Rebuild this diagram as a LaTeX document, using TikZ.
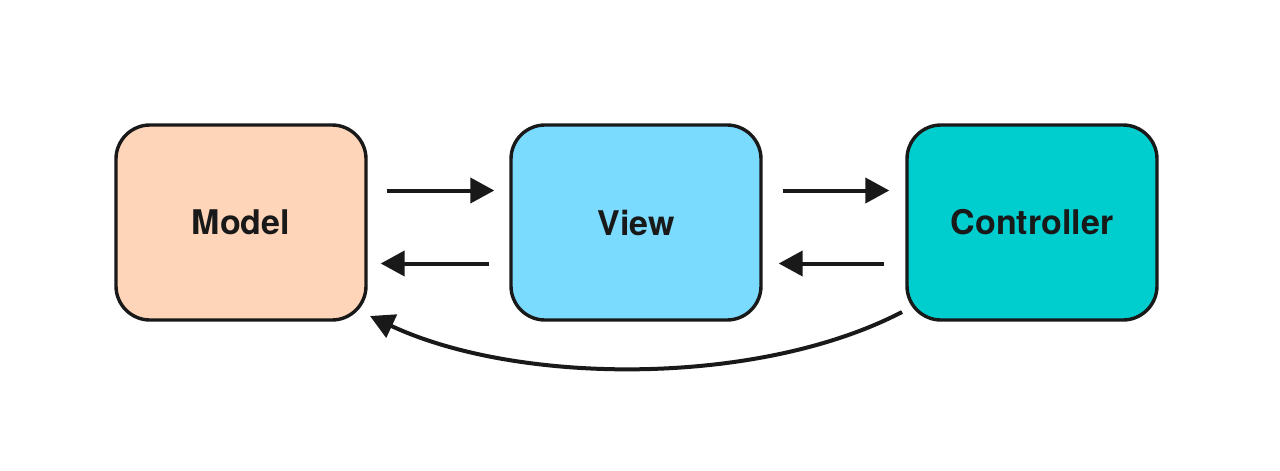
\documentclass[tikz,border=0pt]{standalone}
\usepackage{fontspec}
\setmainfont{TeX Gyre Heros}
\usetikzlibrary{arrows.meta}
\definecolor{modelc}{HTML}{FFD5B9}
\definecolor{viewc}{HTML}{7BDBFF}
\definecolor{ctrlc}{HTML}{00CDCD}
\begin{document}
\begin{tikzpicture}[x=0.5pt,y=-0.5pt,
  box/.style={draw=black!90, line width=1.7pt, rounded corners=17pt,
    minimum width=125pt, minimum height=97.5pt, inner sep=0pt,
    font=\fontsize{17}{20}\selectfont\bfseries, text=black!90},
  arr/.style={line width=2pt, draw=black!90,
    -{Triangle[length=12pt,width=12.5pt]}}]
\useasboundingbox (0,0) rectangle (1280,471);
\fill[white] (0,0) rectangle (1280,471);
\node[box, fill=modelc] (m) at (241,222.5) {Model};
\node[box, fill=viewc] (v) at (636,222.5) {View};
\node[box, fill=ctrlc] (c) at (1032,222.5) {Controller};
\draw[arr, shorten <=19pt/2, shorten >=15pt/2] ([yshift=16pt]m.east) -- ([yshift=16pt]v.west);
\draw[arr, shorten <=20pt/2, shorten >=16pt/2] ([yshift=16pt]v.east) -- ([yshift=16pt]c.west);
\draw[arr, shorten <=20pt/2, shorten >=13pt/2] ([yshift=-20.5pt]v.west) -- ([yshift=-20.5pt]m.east);
\draw[arr, shorten <=21pt/2, shorten >=16pt/2] ([yshift=-20.5pt]c.west) -- ([yshift=-20.5pt]v.east);
\coordinate (cs) at (902,312);
\coordinate (me) at (370,316);
\draw[arr] (cs) .. controls (760,386) and (520,386) .. (me);
\end{tikzpicture}
\end{document}
